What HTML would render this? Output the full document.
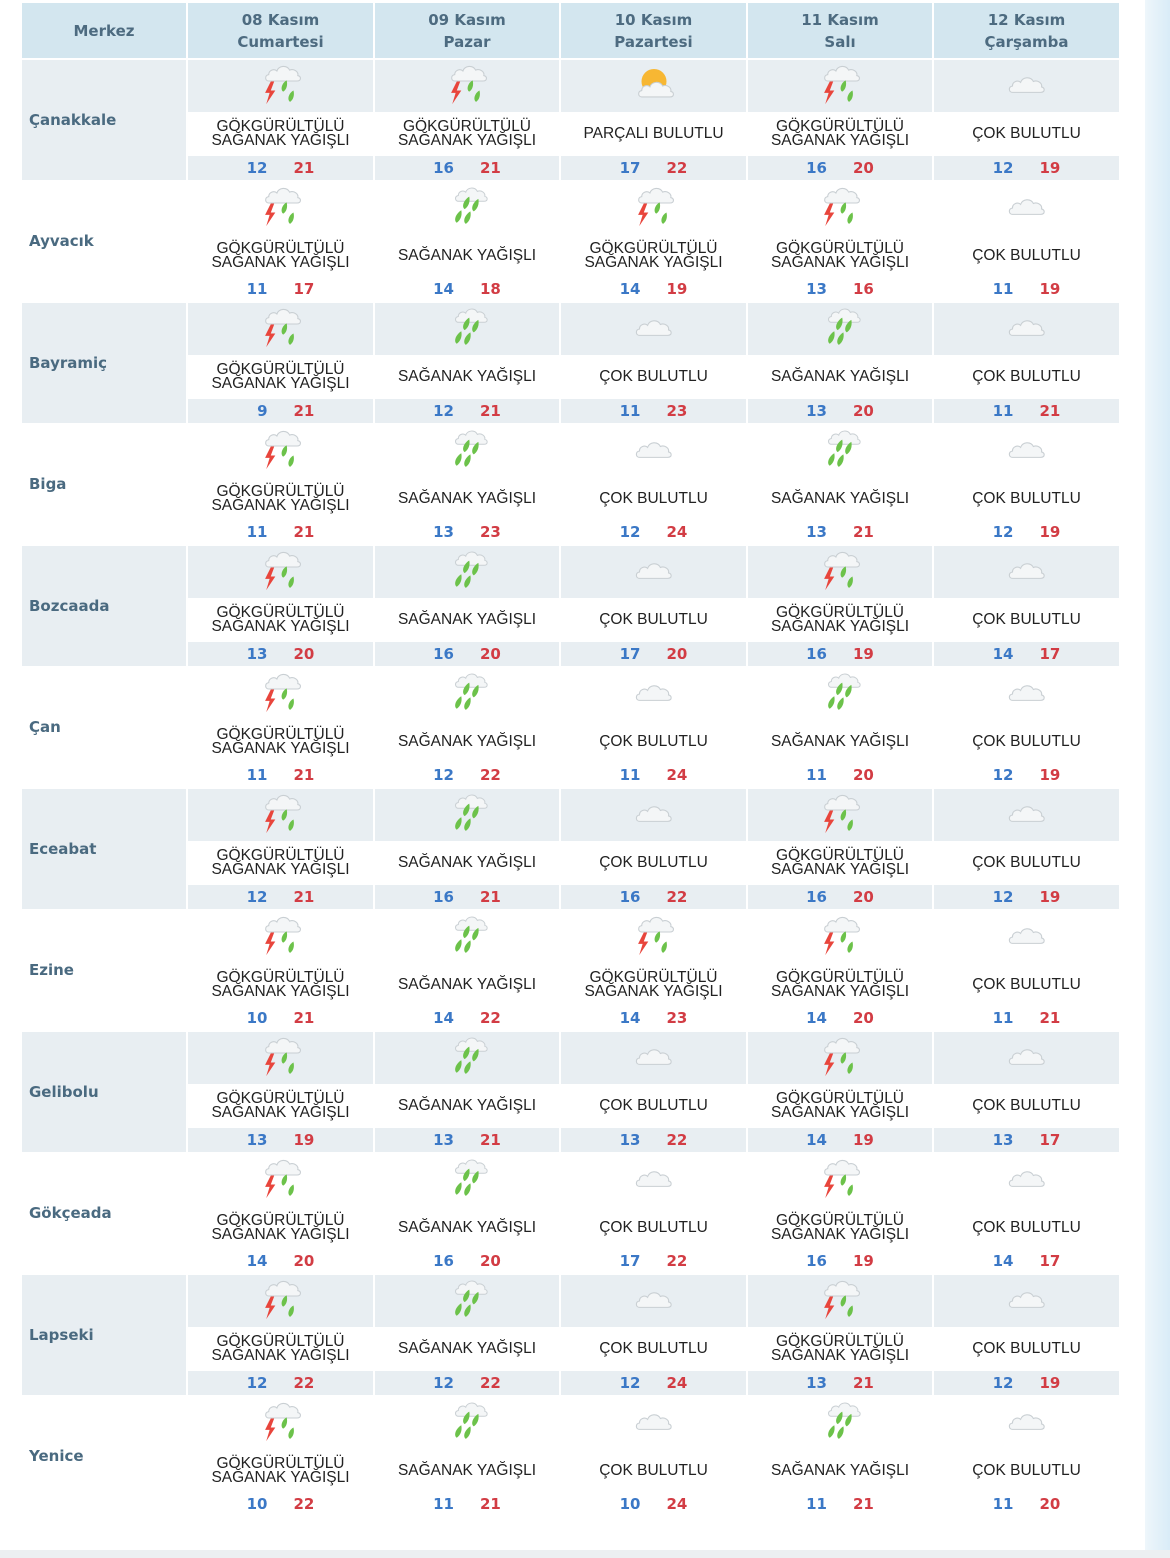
<!DOCTYPE html>
<html><head><meta charset="utf-8">
<style>
html,body{margin:0;padding:0;width:1170px;height:1558px;background:#fff;overflow:hidden;font-family:"Liberation Sans",sans-serif}
.side{position:absolute;left:1145px;top:0;width:25px;height:1558px;background:linear-gradient(90deg,#eef6fb,#d9ecf7)}
.bot{position:absolute;left:0;top:1550px;width:1170px;height:8px;background:#eceff1}
table{position:absolute;left:20px;top:1px;border-collapse:separate;border-spacing:2px;table-layout:fixed}
th{background:#d3e6ef;color:#4d6b80;font-weight:bold;font-size:15px;height:55px;line-height:22px;padding:0;font-family:"DejaVu Sans",sans-serif}
td{padding:0;text-align:center}
td.n{width:164px;text-align:left;padding-left:7px;color:#4a6a80;font-weight:bold;font-size:15px;vertical-align:middle;box-sizing:border-box;font-family:"DejaVu Sans",sans-serif}
tr.i td{height:52px}
tr.x td{height:40px;font-size:15.5px;color:#222;line-height:14px}
tr.t td{height:23.5px;font-weight:bold;font-size:15px;font-family:"DejaVu Sans",sans-serif}
.s td{background:#e8eef2}
.s tr.x td:not(.n){background:#fff}
.b{color:#3b78c6;display:inline-block;width:30px;text-align:right;margin-right:26px}
.r{color:#d23c44;display:inline-block;width:30px;text-align:left}
svg{display:block;margin:0 auto}
</style></head><body>
<div class="side"></div><div class="bot"></div>
<svg width="0" height="0" style="position:absolute">
<defs>
<symbol id="cl" viewBox="0 0 44 30"><path d="M6 22c-4 0-5-6 0-7 0-5 6-7 9-4 2-6 11-7 14-1 5-2 10 2 9 6 4 1 4 6-1 6z" fill="#f4f6f7" stroke="#c9cfd3" stroke-width="1.2"/></symbol>
<symbol id="T" viewBox="0 0 44 44"><use href="#cl" x="6" y="0" width="36" height="24"/><path d="M13 18l-5 10h4l-3 10 8-12h-4l3-8z" fill="#e8453c"/><path d="M27 17c-4 2-6 8-3 10 3-2 4-6 3-10zM33 26c-4 2-6 8-3 10 3-2 4-6 3-10z" fill="#6cc24a"/></symbol>
<symbol id="S" viewBox="0 0 44 44"><use href="#cl" x="10" y="0" width="32" height="22"/><path d="M24 12c-5 3-7 9-4 11 3-2 5-6 4-11zM32 14c-5 3-7 9-4 11 3-2 5-6 4-11zM17 24c-5 3-7 9-4 11 3-2 5-6 4-11zM25 25c-5 3-7 9-4 11 3-2 5-6 4-11z" fill="#6cc24a"/></symbol>
<symbol id="C" viewBox="0 0 44 44"><use href="#cl" x="4" y="10" width="36" height="24"/></symbol>
<symbol id="P" viewBox="0 0 44 44"><circle cx="22" cy="18" r="11" fill="#f7b733"/><use href="#cl" x="6" y="14" width="36" height="24"/></symbol>
</defs></svg>
<table>
<tr><th style="width:164px">Merkez</th><th style="width:185px">08 Kasım<br>Cumartesi</th><th style="width:184px">09 Kasım<br>Pazar</th><th style="width:185px">10 Kasım<br>Pazartesi</th><th style="width:184px">11 Kasım<br>Salı</th><th style="width:185px">12 Kasım<br>Çarşamba</th></tr>

<tbody class="s">
<tr class="i"><td class="n" rowspan="3">Çanakkale</td><td><svg width="50" height="50"><use href="#T"/></svg></td><td><svg width="50" height="50"><use href="#T"/></svg></td><td><svg width="50" height="50"><use href="#P"/></svg></td><td><svg width="50" height="50"><use href="#T"/></svg></td><td><svg width="50" height="50"><use href="#C"/></svg></td></tr>
<tr class="x"><td>GÖKGÜRÜLTÜLÜ<br>SAĞANAK YAĞIŞLI</td><td>GÖKGÜRÜLTÜLÜ<br>SAĞANAK YAĞIŞLI</td><td>PARÇALI BULUTLU</td><td>GÖKGÜRÜLTÜLÜ<br>SAĞANAK YAĞIŞLI</td><td>ÇOK BULUTLU</td></tr>
<tr class="t"><td><span class="b">12</span><span class="r">21</span></td><td><span class="b">16</span><span class="r">21</span></td><td><span class="b">17</span><span class="r">22</span></td><td><span class="b">16</span><span class="r">20</span></td><td><span class="b">12</span><span class="r">19</span></td></tr>
</tbody>
<tbody>
<tr class="i"><td class="n" rowspan="3">Ayvacık</td><td><svg width="50" height="50"><use href="#T"/></svg></td><td><svg width="50" height="50"><use href="#S"/></svg></td><td><svg width="50" height="50"><use href="#T"/></svg></td><td><svg width="50" height="50"><use href="#T"/></svg></td><td><svg width="50" height="50"><use href="#C"/></svg></td></tr>
<tr class="x"><td>GÖKGÜRÜLTÜLÜ<br>SAĞANAK YAĞIŞLI</td><td>SAĞANAK YAĞIŞLI</td><td>GÖKGÜRÜLTÜLÜ<br>SAĞANAK YAĞIŞLI</td><td>GÖKGÜRÜLTÜLÜ<br>SAĞANAK YAĞIŞLI</td><td>ÇOK BULUTLU</td></tr>
<tr class="t"><td><span class="b">11</span><span class="r">17</span></td><td><span class="b">14</span><span class="r">18</span></td><td><span class="b">14</span><span class="r">19</span></td><td><span class="b">13</span><span class="r">16</span></td><td><span class="b">11</span><span class="r">19</span></td></tr>
</tbody>
<tbody class="s">
<tr class="i"><td class="n" rowspan="3">Bayramiç</td><td><svg width="50" height="50"><use href="#T"/></svg></td><td><svg width="50" height="50"><use href="#S"/></svg></td><td><svg width="50" height="50"><use href="#C"/></svg></td><td><svg width="50" height="50"><use href="#S"/></svg></td><td><svg width="50" height="50"><use href="#C"/></svg></td></tr>
<tr class="x"><td>GÖKGÜRÜLTÜLÜ<br>SAĞANAK YAĞIŞLI</td><td>SAĞANAK YAĞIŞLI</td><td>ÇOK BULUTLU</td><td>SAĞANAK YAĞIŞLI</td><td>ÇOK BULUTLU</td></tr>
<tr class="t"><td><span class="b">9</span><span class="r">21</span></td><td><span class="b">12</span><span class="r">21</span></td><td><span class="b">11</span><span class="r">23</span></td><td><span class="b">13</span><span class="r">20</span></td><td><span class="b">11</span><span class="r">21</span></td></tr>
</tbody>
<tbody>
<tr class="i"><td class="n" rowspan="3">Biga</td><td><svg width="50" height="50"><use href="#T"/></svg></td><td><svg width="50" height="50"><use href="#S"/></svg></td><td><svg width="50" height="50"><use href="#C"/></svg></td><td><svg width="50" height="50"><use href="#S"/></svg></td><td><svg width="50" height="50"><use href="#C"/></svg></td></tr>
<tr class="x"><td>GÖKGÜRÜLTÜLÜ<br>SAĞANAK YAĞIŞLI</td><td>SAĞANAK YAĞIŞLI</td><td>ÇOK BULUTLU</td><td>SAĞANAK YAĞIŞLI</td><td>ÇOK BULUTLU</td></tr>
<tr class="t"><td><span class="b">11</span><span class="r">21</span></td><td><span class="b">13</span><span class="r">23</span></td><td><span class="b">12</span><span class="r">24</span></td><td><span class="b">13</span><span class="r">21</span></td><td><span class="b">12</span><span class="r">19</span></td></tr>
</tbody>
<tbody class="s">
<tr class="i"><td class="n" rowspan="3">Bozcaada</td><td><svg width="50" height="50"><use href="#T"/></svg></td><td><svg width="50" height="50"><use href="#S"/></svg></td><td><svg width="50" height="50"><use href="#C"/></svg></td><td><svg width="50" height="50"><use href="#T"/></svg></td><td><svg width="50" height="50"><use href="#C"/></svg></td></tr>
<tr class="x"><td>GÖKGÜRÜLTÜLÜ<br>SAĞANAK YAĞIŞLI</td><td>SAĞANAK YAĞIŞLI</td><td>ÇOK BULUTLU</td><td>GÖKGÜRÜLTÜLÜ<br>SAĞANAK YAĞIŞLI</td><td>ÇOK BULUTLU</td></tr>
<tr class="t"><td><span class="b">13</span><span class="r">20</span></td><td><span class="b">16</span><span class="r">20</span></td><td><span class="b">17</span><span class="r">20</span></td><td><span class="b">16</span><span class="r">19</span></td><td><span class="b">14</span><span class="r">17</span></td></tr>
</tbody>
<tbody>
<tr class="i"><td class="n" rowspan="3">Çan</td><td><svg width="50" height="50"><use href="#T"/></svg></td><td><svg width="50" height="50"><use href="#S"/></svg></td><td><svg width="50" height="50"><use href="#C"/></svg></td><td><svg width="50" height="50"><use href="#S"/></svg></td><td><svg width="50" height="50"><use href="#C"/></svg></td></tr>
<tr class="x"><td>GÖKGÜRÜLTÜLÜ<br>SAĞANAK YAĞIŞLI</td><td>SAĞANAK YAĞIŞLI</td><td>ÇOK BULUTLU</td><td>SAĞANAK YAĞIŞLI</td><td>ÇOK BULUTLU</td></tr>
<tr class="t"><td><span class="b">11</span><span class="r">21</span></td><td><span class="b">12</span><span class="r">22</span></td><td><span class="b">11</span><span class="r">24</span></td><td><span class="b">11</span><span class="r">20</span></td><td><span class="b">12</span><span class="r">19</span></td></tr>
</tbody>
<tbody class="s">
<tr class="i"><td class="n" rowspan="3">Eceabat</td><td><svg width="50" height="50"><use href="#T"/></svg></td><td><svg width="50" height="50"><use href="#S"/></svg></td><td><svg width="50" height="50"><use href="#C"/></svg></td><td><svg width="50" height="50"><use href="#T"/></svg></td><td><svg width="50" height="50"><use href="#C"/></svg></td></tr>
<tr class="x"><td>GÖKGÜRÜLTÜLÜ<br>SAĞANAK YAĞIŞLI</td><td>SAĞANAK YAĞIŞLI</td><td>ÇOK BULUTLU</td><td>GÖKGÜRÜLTÜLÜ<br>SAĞANAK YAĞIŞLI</td><td>ÇOK BULUTLU</td></tr>
<tr class="t"><td><span class="b">12</span><span class="r">21</span></td><td><span class="b">16</span><span class="r">21</span></td><td><span class="b">16</span><span class="r">22</span></td><td><span class="b">16</span><span class="r">20</span></td><td><span class="b">12</span><span class="r">19</span></td></tr>
</tbody>
<tbody>
<tr class="i"><td class="n" rowspan="3">Ezine</td><td><svg width="50" height="50"><use href="#T"/></svg></td><td><svg width="50" height="50"><use href="#S"/></svg></td><td><svg width="50" height="50"><use href="#T"/></svg></td><td><svg width="50" height="50"><use href="#T"/></svg></td><td><svg width="50" height="50"><use href="#C"/></svg></td></tr>
<tr class="x"><td>GÖKGÜRÜLTÜLÜ<br>SAĞANAK YAĞIŞLI</td><td>SAĞANAK YAĞIŞLI</td><td>GÖKGÜRÜLTÜLÜ<br>SAĞANAK YAĞIŞLI</td><td>GÖKGÜRÜLTÜLÜ<br>SAĞANAK YAĞIŞLI</td><td>ÇOK BULUTLU</td></tr>
<tr class="t"><td><span class="b">10</span><span class="r">21</span></td><td><span class="b">14</span><span class="r">22</span></td><td><span class="b">14</span><span class="r">23</span></td><td><span class="b">14</span><span class="r">20</span></td><td><span class="b">11</span><span class="r">21</span></td></tr>
</tbody>
<tbody class="s">
<tr class="i"><td class="n" rowspan="3">Gelibolu</td><td><svg width="50" height="50"><use href="#T"/></svg></td><td><svg width="50" height="50"><use href="#S"/></svg></td><td><svg width="50" height="50"><use href="#C"/></svg></td><td><svg width="50" height="50"><use href="#T"/></svg></td><td><svg width="50" height="50"><use href="#C"/></svg></td></tr>
<tr class="x"><td>GÖKGÜRÜLTÜLÜ<br>SAĞANAK YAĞIŞLI</td><td>SAĞANAK YAĞIŞLI</td><td>ÇOK BULUTLU</td><td>GÖKGÜRÜLTÜLÜ<br>SAĞANAK YAĞIŞLI</td><td>ÇOK BULUTLU</td></tr>
<tr class="t"><td><span class="b">13</span><span class="r">19</span></td><td><span class="b">13</span><span class="r">21</span></td><td><span class="b">13</span><span class="r">22</span></td><td><span class="b">14</span><span class="r">19</span></td><td><span class="b">13</span><span class="r">17</span></td></tr>
</tbody>
<tbody>
<tr class="i"><td class="n" rowspan="3">Gökçeada</td><td><svg width="50" height="50"><use href="#T"/></svg></td><td><svg width="50" height="50"><use href="#S"/></svg></td><td><svg width="50" height="50"><use href="#C"/></svg></td><td><svg width="50" height="50"><use href="#T"/></svg></td><td><svg width="50" height="50"><use href="#C"/></svg></td></tr>
<tr class="x"><td>GÖKGÜRÜLTÜLÜ<br>SAĞANAK YAĞIŞLI</td><td>SAĞANAK YAĞIŞLI</td><td>ÇOK BULUTLU</td><td>GÖKGÜRÜLTÜLÜ<br>SAĞANAK YAĞIŞLI</td><td>ÇOK BULUTLU</td></tr>
<tr class="t"><td><span class="b">14</span><span class="r">20</span></td><td><span class="b">16</span><span class="r">20</span></td><td><span class="b">17</span><span class="r">22</span></td><td><span class="b">16</span><span class="r">19</span></td><td><span class="b">14</span><span class="r">17</span></td></tr>
</tbody>
<tbody class="s">
<tr class="i"><td class="n" rowspan="3">Lapseki</td><td><svg width="50" height="50"><use href="#T"/></svg></td><td><svg width="50" height="50"><use href="#S"/></svg></td><td><svg width="50" height="50"><use href="#C"/></svg></td><td><svg width="50" height="50"><use href="#T"/></svg></td><td><svg width="50" height="50"><use href="#C"/></svg></td></tr>
<tr class="x"><td>GÖKGÜRÜLTÜLÜ<br>SAĞANAK YAĞIŞLI</td><td>SAĞANAK YAĞIŞLI</td><td>ÇOK BULUTLU</td><td>GÖKGÜRÜLTÜLÜ<br>SAĞANAK YAĞIŞLI</td><td>ÇOK BULUTLU</td></tr>
<tr class="t"><td><span class="b">12</span><span class="r">22</span></td><td><span class="b">12</span><span class="r">22</span></td><td><span class="b">12</span><span class="r">24</span></td><td><span class="b">13</span><span class="r">21</span></td><td><span class="b">12</span><span class="r">19</span></td></tr>
</tbody>
<tbody>
<tr class="i"><td class="n" rowspan="3">Yenice</td><td><svg width="50" height="50"><use href="#T"/></svg></td><td><svg width="50" height="50"><use href="#S"/></svg></td><td><svg width="50" height="50"><use href="#C"/></svg></td><td><svg width="50" height="50"><use href="#S"/></svg></td><td><svg width="50" height="50"><use href="#C"/></svg></td></tr>
<tr class="x"><td>GÖKGÜRÜLTÜLÜ<br>SAĞANAK YAĞIŞLI</td><td>SAĞANAK YAĞIŞLI</td><td>ÇOK BULUTLU</td><td>SAĞANAK YAĞIŞLI</td><td>ÇOK BULUTLU</td></tr>
<tr class="t"><td><span class="b">10</span><span class="r">22</span></td><td><span class="b">11</span><span class="r">21</span></td><td><span class="b">10</span><span class="r">24</span></td><td><span class="b">11</span><span class="r">21</span></td><td><span class="b">11</span><span class="r">20</span></td></tr>
</tbody>
</table>
</body></html>
